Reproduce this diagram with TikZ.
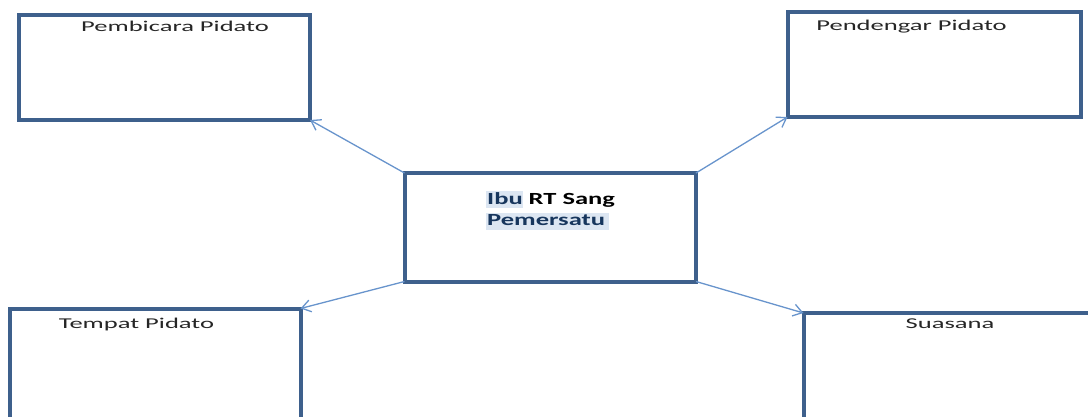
\documentclass[tikz,border=0pt]{standalone}
\usepackage{fontspec}
\usetikzlibrary{arrows.meta}
\newfontfamily\lblfont[FakeStretch=1.77]{Carlito}
\newfontfamily\ctrfont[FakeStretch=1.56]{Carlito}
\definecolor{boxline}{RGB}{62,96,140}
\definecolor{arrowc}{RGB}{104,148,204}
\definecolor{hl}{RGB}{220,230,242}
\definecolor{navy}{RGB}{23,54,93}
\definecolor{txt}{RGB}{38,38,38}
\begin{document}
\begin{tikzpicture}[x=1pt,y=-1pt,
  box/.style={draw=boxline, line width=4pt, inner sep=0pt, outer sep=0pt, fill=white, rectangle},
  lbl/.style={font=\lblfont\fontsize{15}{18}\selectfont, text=txt, inner sep=0pt, anchor=base},
  ctrtxt/.style={font=\ctrfont\bfseries\fontsize{17}{20}\selectfont, inner sep=0pt, anchor=base west},
  conn/.style={draw=arrowc, line width=1.3pt, -{Straight Barb[length=9pt,width=12pt]}}]
\useasboundingbox (0,0) rectangle (1088,416);
\clip (0,0) rectangle (1088,416);
% boxes
\node[box, minimum width=291.5pt, minimum height=105pt] (pem) at (164.25,67.5) {};
\node[box, minimum width=293.5pt, minimum height=105pt] (pen) at (934.25,64.5) {};
\node[box, minimum width=291pt, minimum height=120pt] (tem) at (155,368.5) {};
\node[box, minimum width=296.5pt, minimum height=120pt] (sua) at (951.75,373) {};
\node[box, minimum width=291.5pt, minimum height=108.5pt] (ctr) at (550.25,227.25) {};
% labels
\node[lbl] (pemt) at (175,31) {Pembicara Pidato};
\node[lbl] (pent) at (911.5,30.5) {Pendengar Pidato};
\node[lbl] (temt) at (136.5,328) {Tempat Pidato};
\node[lbl] (suat) at (950,328) {Suasana};
% center text with highlight
\fill[hl] (486,191) rectangle (523,208);
\fill[hl] (486,213) rectangle (609,230);
\node[ctrtxt] (ctra) at (487,204) {\textcolor{navy}{Ibu} RT Sang};
\node[ctrtxt, text=navy] (ctrb) at (487,225) {Pemersatu};
% connectors
\draw[conn] (ctr.north west) -- (pem.south east);
\draw[conn] (ctr.north east) -- (pen.south west);
\draw[conn] (ctr.south west) -- (tem.north east);
\draw[conn] (ctr.south east) -- (sua.north west);
\end{tikzpicture}
\end{document}
